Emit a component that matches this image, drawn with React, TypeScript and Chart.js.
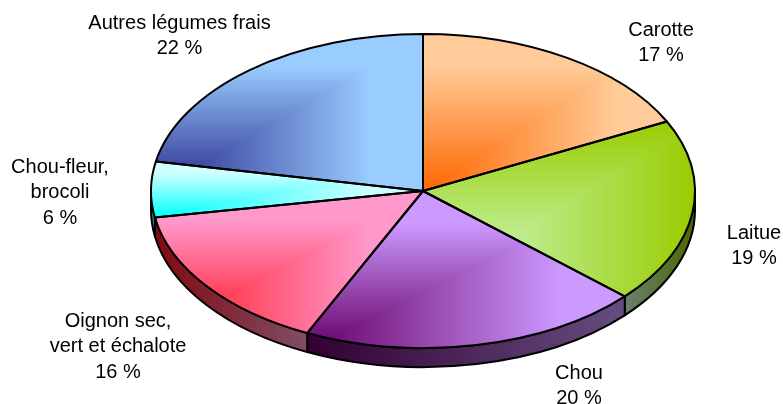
import React, { useEffect, useRef } from "react";
import { Chart, registerables } from "chart.js";

Chart.register(...registerables);

const categories = ["Carotte", "Laitue", "Chou", "Oignon sec, vert et échalote", "Chou-fleur, brocoli", "Autres légumes frais"];
const sliceShares = [17.7, 19, 20.3, 15.3, 5.7, 22];
const labelLines = [
  ["Carotte", "17 %"],
  ["Laitue", "19 %"],
  ["Chou", "20 %"],
  ["Oignon sec,", "vert et échalote", "16 %"],
  ["Chou-fleur,", "brocoli", "6 %"],
  ["Autres légumes frais", "22 %"],
];
const labelAnchors = [
  [661, 30],
  [754, 233],
  [579, 373],
  [118, 321],
  [60, 167],
  [179.5, 23],
];
const hotColors = [
  [255, 102, 0],
  [210, 255, 220],
  [102, 0, 102],
  [255, 20, 30],
  [0, 255, 255],
  [40, 40, 140],
];
const farColors = [
  [255, 204, 153],
  [153, 204, 0],
  [204, 153, 255],
  [255, 153, 204],
  [204, 255, 255],
  [153, 204, 255],
];
const rampEnds = [0.8, 1, 0.8, 0.8, 0.8, 0.8];

const W = 783;
const H = 404;
const CX = 423;
const CY = 191;
const RX = 272;
const RY = 157;
const DEPTH = 19;
const SX = RX / RY;

function sliceAngles(i: number) {
  const total = sliceShares.reduce((a, b) => a + b, 0);
  let before = 0;
  for (let k = 0; k < i; k++) before += sliceShares[k];
  const start = -Math.PI / 2 + (before / total) * Math.PI * 2;
  const end = start + (sliceShares[i] / total) * Math.PI * 2;
  return [start, end];
}

function sliceBox(i: number) {
  const [a, b] = sliceAngles(i);
  const xs = [CX, CX + RX * Math.cos(a), CX + RX * Math.cos(b)];
  const ys = [CY, CY + RY * Math.sin(a), CY + RY * Math.sin(b)];
  for (let k = -1; k <= 4; k++) {
    const q = (k * Math.PI) / 2;
    if (q > a && q < b) {
      xs.push(CX + RX * Math.cos(q));
      ys.push(CY + RY * Math.sin(q));
    }
  }
  return { x0: Math.min(...xs), x1: Math.max(...xs), y0: Math.min(...ys), y1: Math.max(...ys) };
}

function makePattern(ctx: CanvasRenderingContext2D, i: number) {
  const off = document.createElement("canvas");
  off.width = W;
  off.height = H;
  const oc = off.getContext("2d")!;
  const img = oc.createImageData(W, H);
  const box = sliceBox(i);
  const hot = hotColors[i];
  const far = farColors[i];
  for (let y = 0; y < H; y++) {
    for (let x = 0; x < W; x++) {
      const raw = Math.max((x - box.x0) / (box.x1 - box.x0), (box.y1 - y) / (box.y1 - box.y0));
      const t = Math.min(1, Math.max(0, raw / rampEnds[i]));
      const p = (y * W + x) * 4;
      img.data[p] = hot[0] + (far[0] - hot[0]) * t;
      img.data[p + 1] = hot[1] + (far[1] - hot[1]) * t;
      img.data[p + 2] = hot[2] + (far[2] - hot[2]) * t;
      img.data[p + 3] = 255;
    }
  }
  oc.putImageData(img, 0, 0);
  const pattern = ctx.createPattern(off, "no-repeat")!;
  pattern.setTransform(new DOMMatrix().translate(CX, CY).scale(1 / SX, 1).translate(-CX, -CY));
  return pattern;
}

const piePlugin = {
  id: "tiltedPie",
  beforeDatasetsDraw(chart: any) {
    const ctx: CanvasRenderingContext2D = chart.ctx;
    const arcs = chart.getDatasetMeta(0).data;
    ctx.save();
    ctx.lineWidth = 2;
    ctx.strokeStyle = "#000";
    ctx.lineJoin = "round";
    arcs.forEach((arc: any, i: number) => {
      const a = Math.max(arc.startAngle, 0);
      const b = Math.min(arc.endAngle, Math.PI);
      if (a >= b) return;
      const xa = CX + RX * Math.cos(a);
      const xb = CX + RX * Math.cos(b);
      const g = ctx.createLinearGradient(Math.min(xa, xb), 0, Math.max(xa, xb), 0);
      const dim = (c: number[]) => `rgb(${c[0] / 2},${c[1] / 2},${c[2] / 2})`;
      g.addColorStop(0, dim(hotColors[i]));
      g.addColorStop(1, dim(farColors[i]));
      ctx.beginPath();
      ctx.ellipse(CX, CY, RX, RY, 0, a, b);
      ctx.ellipse(CX, CY + DEPTH, RX, RY, 0, b, a, true);
      ctx.closePath();
      ctx.fillStyle = g;
      ctx.fill();
      ctx.stroke();
    });
    ctx.restore();
    ctx.save();
    ctx.translate(CX, CY);
    ctx.scale(SX, 1);
    ctx.translate(-CX, -CY);
  },
  afterDatasetsDraw(chart: any) {
    const ctx: CanvasRenderingContext2D = chart.ctx;
    ctx.restore();
    const arcs = chart.getDatasetMeta(0).data;
    ctx.save();
    ctx.lineWidth = 2;
    ctx.strokeStyle = "#000";
    ctx.lineJoin = "round";
    arcs.forEach((arc: any) => {
      ctx.beginPath();
      ctx.moveTo(CX, CY);
      ctx.ellipse(CX, CY, RX, RY, 0, arc.startAngle, arc.endAngle);
      ctx.closePath();
      ctx.stroke();
    });
    ctx.fillStyle = "#000";
    ctx.font = '20px "Liberation Sans"';
    ctx.textAlign = "center";
    ctx.textBaseline = "middle";
    labelLines.forEach((lines, i) => {
      lines.forEach((line, k) => {
        ctx.fillText(line, labelAnchors[i][0], labelAnchors[i][1] + k * 25.8);
      });
    });
    ctx.restore();
  },
};

export default function App() {
  const ref = useRef<HTMLCanvasElement>(null);
  useEffect(() => {
    const canvas = ref.current!;
    const ctx = canvas.getContext("2d")!;
    const chart = new Chart(canvas, {
      type: "pie",
      data: {
        labels: categories,
        datasets: [
          {
            data: sliceShares,
            backgroundColor: sliceShares.map((_, i) => makePattern(ctx, i)),
            borderWidth: 0,
            clip: false,
          } as any,
        ],
      },
      options: {
        animation: false,
        responsive: false,
        layout: { padding: { top: CY - RY, bottom: H - CY - RY, left: 2 * CX - W, right: 0 } },
        plugins: { legend: { display: false }, tooltip: { enabled: false } },
      },
      plugins: [piePlugin],
    });
    return () => chart.destroy();
  }, []);
  return (
    <div style={{ position: "absolute", left: 0, top: 0, width: W, height: H, background: "#fff" }}>
      <canvas ref={ref} width={W} height={H} style={{ display: "block", width: W, height: H }} />
    </div>
  );
}
